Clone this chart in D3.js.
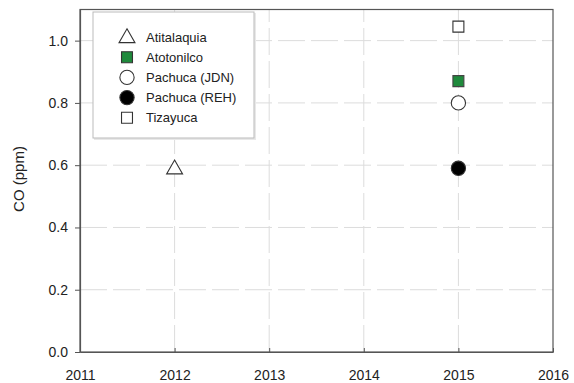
<!DOCTYPE html>
<html>
<head>
<meta charset="utf-8">
<script src="https://cdn.jsdelivr.net/npm/d3@7"></script>
<style>
  html, body { margin: 0; padding: 0; background: #fff; }
  svg { display: block; font-family: "Liberation Sans", Arial, sans-serif; }
</style>
</head>
<body>
<svg id="chart" width="574" height="383"></svg>
<script>
// Mean CO concentration by monitoring station
const stations = ["Atitalaquia", "Atotonilco", "Pachuca (JDN)", "Pachuca (REH)", "Tizayuca"];
const years    = [2012, 2015, 2015, 2015, 2015];
const coPpm    = [0.59, 0.87, 0.80, 0.59, 1.045];
const symbols  = ["triangle", "square", "circle", "circle", "square"];
const fills    = ["#fff", "#1f8a3c", "#fff", "#000", "#fff"];

const xTicks = [2011, 2012, 2013, 2014, 2015, 2016];
const yTicks = [0.0, 0.2, 0.4, 0.6, 0.8, 1.0];

const margin = { left: 80, right: 21, top: 9.5, bottom: 31 };
const W = 574, H = 383;
const svg = d3.select("#chart");

const x = d3.scaleLinear().domain([2011, 2016]).range([margin.left, W - margin.right]);
const y = d3.scaleLinear().domain([0, 1.1]).range([H - margin.bottom, margin.top]);

// grid
const grid = svg.append("g").attr("stroke", "#dcdcdc").attr("stroke-width", 1)
  .attr("stroke-dasharray", "27,6");
grid.selectAll("line.h").data(yTicks.filter(d => d > 0)).join("line")
  .attr("x1", x(2011)).attr("x2", x(2016))
  .attr("y1", d => y(d)).attr("y2", d => y(d));
grid.selectAll("line.v").data(xTicks.slice(1, -1)).join("line")
  .attr("y1", y(0)).attr("y2", y(1.1))
  .attr("x1", d => x(d)).attr("x2", d => x(d));

// frame
svg.append("rect")
  .attr("x", x(2011)).attr("y", y(1.1))
  .attr("width", x(2016) - x(2011)).attr("height", y(0) - y(1.1))
  .attr("fill", "none").attr("stroke", "#555").attr("stroke-width", 1.2);

// axes
const xAxis = svg.append("g").attr("transform", `translate(0,${y(0)})`)
  .call(d3.axisBottom(x).tickValues(xTicks).tickFormat(d3.format("d")).tickSize(4).tickSizeOuter(0));
const yAxis = svg.append("g").attr("transform", `translate(${x(2011)},0)`)
  .call(d3.axisLeft(y).tickValues(yTicks).tickFormat(d3.format(".1f")).tickSize(5).tickSizeOuter(0));
[xAxis, yAxis].forEach(a => {
  a.select(".domain").attr("stroke", "#555").attr("stroke-width", 1.2);
  a.selectAll(".tick line").attr("stroke", "#555");
  a.selectAll("text").attr("font-size", 14).attr("fill", "#222")
    .attr("font-family", "Liberation Sans, Arial, sans-serif");
});
xAxis.selectAll(".tick line").attr("y1", -4).attr("y2", 0);
xAxis.selectAll("text").attr("y", 18).attr("dy", "0.71em");
yAxis.selectAll("text").attr("x", -12);

// y label
svg.append("text")
  .attr("transform", `translate(24,179) rotate(-90)`)
  .attr("text-anchor", "middle").attr("font-size", 15).attr("fill", "#222")
  .text("CO (ppm)");

// symbol path builders
function symbolPath(kind, size) {
  const t = kind === "triangle" ? d3.symbolTriangle : kind === "square" ? d3.symbolSquare : d3.symbolCircle;
  return d3.symbol().type(t).size(size)();
}
const sizes = { triangle: 110, square: 120, circle: 160 };

// points
svg.append("g").selectAll("path").data(stations).join("path")
  .attr("d", (d, i) => symbolPath(symbols[i], sizes[symbols[i]]))
  .attr("transform", (d, i) => `translate(${x(years[i])},${y(coPpm[i]) + (symbols[i] === "triangle" ? 1 : 0)})`)
  .attr("fill", (d, i) => fills[i])
  .attr("stroke", (d, i) => fills[i] === "#1f8a3c" ? "#444" : "#333")
  .attr("stroke-width", 1.1);

// legend
const lg = svg.append("g");
lg.append("rect").attr("x", 94).attr("y", 13).attr("width", 162).attr("height", 127)
  .attr("fill", "#e8e8e8");
lg.append("rect").attr("x", 93).attr("y", 12).attr("width", 161).attr("height", 126)
  .attr("fill", "#fff").attr("stroke", "#bbb").attr("stroke-width", 1);
const rows = lg.selectAll("g.row").data(stations).join("g")
  .attr("transform", (d, i) => `translate(127,${37 + i * 20.2})`);
rows.append("path")
  .attr("d", (d, i) => symbolPath(symbols[i], sizes[symbols[i]]))
  .attr("transform", (d, i) => symbols[i] === "triangle" ? "translate(0,1)" : null)
  .attr("fill", (d, i) => fills[i])
  .attr("stroke", "#333").attr("stroke-width", 1.1);
rows.append("text").attr("x", 19).attr("y", 4.5)
  .attr("font-size", 13).attr("fill", "#222").text(d => d);
</script>
</body>
</html>
